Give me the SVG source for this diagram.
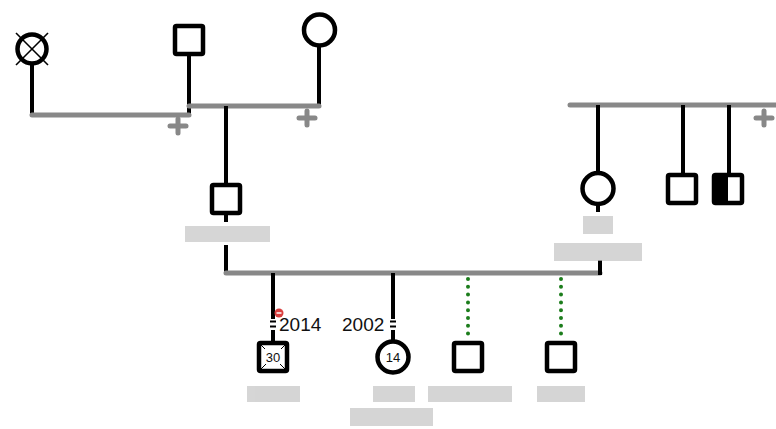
<svg xmlns="http://www.w3.org/2000/svg" width="776" height="429" viewBox="0 0 776 429">
<style>
.ln{stroke:#000;stroke-width:4;fill:none}
.mar{stroke:#888;stroke-width:5;fill:none;stroke-linecap:round}
.plus{stroke:#888;stroke-width:5;stroke-linecap:round}
.dot{stroke:#1c7d1c;stroke-width:4;stroke-linecap:round;stroke-dasharray:0 7.8;fill:none}
.sq{fill:#fff;stroke:#000;stroke-width:4.5}
.ci{fill:#fff;stroke:#000;stroke-width:4.5}
.yr{font-family:"Liberation Sans",Arial,sans-serif;font-size:19px;fill:#111}
.age{font-family:"Liberation Sans",Arial,sans-serif;font-size:13px;fill:#111;text-anchor:middle}
.red{fill:#c4c4c4}
</style>
<rect width="776" height="429" fill="#fff"/>
<g id="connectors">
  <line class="ln" x1="32" y1="64" x2="32" y2="115"/>
  <line class="ln" x1="189" y1="56" x2="189" y2="115"/>
  <line class="ln" x1="319" y1="46" x2="319" y2="106"/>
  <path class="mar" d="M32 115 H189"/>
  <path class="mar" d="M189 106 H319"/>
  <line class="plus" x1="170" y1="126" x2="186" y2="126"/>
  <line class="plus" x1="178" y1="119" x2="178" y2="133"/>
  <line class="plus" x1="299" y1="118" x2="315" y2="118"/>
  <line class="plus" x1="307" y1="111" x2="307" y2="125"/>
  <line class="ln" x1="226" y1="106" x2="226" y2="184"/>
  <line class="ln" x1="226" y1="214" x2="226" y2="222"/>
  <line class="ln" x1="226" y1="245" x2="226" y2="273"/>
  <path class="mar" d="M226 273 H600"/>
  <line class="ln" x1="600" y1="260" x2="600" y2="275"/>
  <path class="mar" d="M570 105 H776"/>
  <line class="plus" x1="756" y1="118" x2="772" y2="118"/>
  <line class="plus" x1="764" y1="111" x2="764" y2="125"/>
  <line class="ln" x1="598" y1="105" x2="598" y2="172"/>
  <line class="ln" x1="598" y1="205" x2="598" y2="212"/>
  <line class="ln" x1="683" y1="105" x2="683" y2="175"/>
  <line class="ln" x1="729" y1="105" x2="729" y2="175"/>
  <line class="ln" x1="273" y1="273" x2="273" y2="342"/>
  <line class="ln" x1="393" y1="273" x2="393" y2="342"/>
  <rect x="268" y="319" width="10" height="11" fill="#fff"/>
  <rect x="388" y="319" width="10" height="11" fill="#fff"/>
  <line stroke="#000" stroke-width="2" x1="270" y1="321.5" x2="276" y2="321.5"/>
  <line stroke="#000" stroke-width="2" x1="270" y1="326.5" x2="276" y2="326.5"/>
  <line stroke="#000" stroke-width="2" x1="390" y1="321.5" x2="396" y2="321.5"/>
  <line stroke="#000" stroke-width="2" x1="390" y1="326.5" x2="396" y2="326.5"/>
  <line class="dot" x1="468" y1="279" x2="468" y2="341"/>
  <line class="dot" x1="561" y1="279" x2="561" y2="341"/>
  <circle cx="279" cy="313" r="4.5" fill="#d94040"/>
  <line x1="276.5" y1="313" x2="281.5" y2="313" stroke="#fff" stroke-width="1.5"/>
</g>
<g id="n-deceased-left">
  <circle class="ci" cx="32" cy="49" r="14.5" stroke-width="5"/>
  <line x1="16" y1="33" x2="48" y2="65" stroke="#000" stroke-width="1.6"/>
  <line x1="48" y1="33" x2="16" y2="65" stroke="#000" stroke-width="1.6"/>
</g>
<g id="n-grandfather"><rect class="sq" x="175" y="26" width="28" height="28" rx="1.5"/></g>
<g id="n-grandmother"><circle class="ci" cx="319.5" cy="30" r="15.5"/></g>
<g id="n-father"><rect class="sq" x="212" y="185" width="28" height="28" rx="1.5"/></g>
<g id="n-mother"><circle class="ci" cx="598" cy="188.5" r="15.5"/></g>
<g id="n-uncle1"><rect class="sq" x="668" y="175" width="28" height="28" rx="1.5"/></g>
<g id="n-uncle2">
  <rect class="sq" x="714" y="175" width="28" height="28" rx="1.5"/>
  <rect x="714" y="175" width="14" height="28" fill="#000"/>
</g>
<g id="n-child1">
  <rect class="sq" x="259" y="343" width="28" height="28" rx="1.5"/>
  <g stroke="#000" stroke-width="1">
    <line x1="261" y1="345" x2="267" y2="351"/>
    <line x1="285" y1="345" x2="279" y2="351"/>
    <line x1="261" y1="369" x2="267" y2="363"/>
    <line x1="285" y1="369" x2="279" y2="363"/>
  </g>
  <rect x="265" y="349" width="16" height="15" fill="#fff"/>
  <text class="age" x="273" y="361.5">30</text>
</g>
<g id="n-child2">
  <circle class="ci" cx="393" cy="357" r="15.5"/>
  <text class="age" x="393" y="361.5">14</text>
</g>
<g id="n-child3"><rect class="sq" x="454" y="343" width="28" height="28" rx="1.5"/></g>
<g id="n-child4"><rect class="sq" x="547" y="343" width="28" height="28" rx="1.5"/></g>
<g id="years">
  <text class="yr" x="279" y="330.5">2014</text>
  <text class="yr" x="342" y="330.5">2002</text>
</g>
<g id="redacted-labels" opacity="0.7">
  <rect class="red" x="185" y="226" width="85" height="16"/>
  <rect class="red" x="583" y="216" width="30" height="18"/>
  <rect class="red" x="554" y="243" width="88" height="18"/>
  <rect class="red" x="247" y="386" width="53" height="16"/>
  <rect class="red" x="373" y="386" width="42" height="16"/>
  <rect class="red" x="350" y="408" width="83" height="18"/>
  <rect class="red" x="428" y="386" width="84" height="16"/>
  <rect class="red" x="537" y="386" width="48" height="16"/>
</g>
</svg>
